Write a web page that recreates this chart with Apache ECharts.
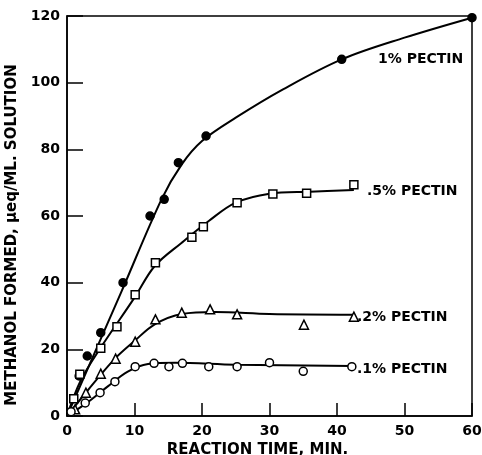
<!DOCTYPE html>
<html><head><meta charset="utf-8">
<script src="https://cdn.jsdelivr.net/npm/echarts@6/dist/echarts.min.js"></script>
<style>html,body{margin:0;padding:0;background:#fff}#c{width:482px;height:455px}</style>
</head><body><div id="c"></div>
<script>
// Observed points [time (min), methanol formed]
const pts1 = [[1.8,12],[3,18],[5,25],[8.3,40],[12.3,60],[14.4,65],[16.5,76],[20.6,84],[40.7,107],[60,119.5]];
const pts05 = [[1.0,5.2],[1.9,12.5],[5.0,20.3],[7.4,26.8],[10.1,36.4],[13.1,46],[18.5,53.6],[20.2,56.8],[25.2,64],[30.5,66.6],[35.5,66.8],[42.5,69.4]];
const pts02 = [[1.2,2],[2.8,7],[5,12.7],[7.2,17.2],[10.1,22.3],[13.1,29],[17,31],[21.2,32],[25.2,30.5],[35.1,27.4],[42.5,29.8]];
const pts01 = [[0.6,1.3],[2.7,3.9],[4.9,7],[7.1,10.3],[10.1,14.8],[12.9,15.8],[15.1,14.8],[17.1,15.8],[21,14.8],[25.2,14.8],[30,16],[35,13.4],[42.2,14.8]];
// Hand-drawn fitted curves
const curve1 = [[0,0],[8,37],[14,65],[17,75.5],[20,82.5],[25,89.5],[32,98],[40.7,107],[50,113.5],[60,119.5]];
const curve05 = [[0,0],[2,10.5],[5,20.5],[10,35.5],[13,45],[17,52],[21,58.5],[25,64],[30,66.7],[36,67.3],[42.5,67.8]];
const curve02 = [[0,0],[3,7.5],[7,17],[10,22.5],[13,27.5],[17,30.6],[22,31.2],[30,30.6],[42.5,30.4]];
const curve01 = [[0,0],[3,4],[6,8.8],[9,13.3],[12,15.6],[16,16],[25,15.4],[42.2,15]];
const xTicks = [0,10,20,30,40,50,60];
const yTicks = [0,20,40,60,80,100,120];
const seriesLabels = ['1% PECTIN','.5% PECTIN','.2% PECTIN','.1% PECTIN'];
const xName = 'REACTION TIME, MIN.';
const yName = 'METHANOL FORMED, \u03bceq/ML. SOLUTION';

const FONT = 'DejaVu Sans';
const txt = {color:'#000', fontFamily:FONT, fontWeight:'bold', fontSize:14};
const nameTxt = {color:'#000', fontFamily:FONT, fontWeight:'bold', fontSize:15};
const chart = echarts.init(document.getElementById('c'));
function curve(d){return {type:'line', data:d, smooth:0.35, showSymbol:false, symbol:'none', lineStyle:{color:'#000', width:2}, z:2, silent:true};}
function pts(d, sym, fill){return {type:'scatter', data:d, symbol:sym, symbolSize:sym==='rect'?8:(sym==='triangle'?9:8), itemStyle:{color:fill, borderColor:'#000', borderWidth:1.5, opacity:1}, z:5, silent:true};}
chart.setOption({
  animation:false,
  backgroundColor:'#fff',
  grid:{left:67, top:16, width:405, height:400, show:true, borderColor:'#000', borderWidth:1.5, backgroundColor:'transparent', containLabel:false, outerBoundsMode:'none'},
  xAxis:{type:'value', min:xTicks[0], max:xTicks[xTicks.length-1], interval:10,
    axisLine:{show:true, lineStyle:{color:'#000', width:1.5}},
    axisTick:{show:true, inside:true, length:13, lineStyle:{color:'#000', width:1.5}},
    axisLabel:Object.assign({margin:8}, txt),
    splitLine:{show:false},
    name:xName, nameLocation:'middle', nameGap:26,
    nameTextStyle:Object.assign({padding:[0,24,0,0]}, nameTxt)},
  yAxis:{type:'value', min:yTicks[0], max:yTicks[yTicks.length-1], interval:20,
    axisLine:{show:true, lineStyle:{color:'#000', width:1.5}},
    axisTick:{show:true, inside:true, length:16, lineStyle:{color:'#000', width:1.5}},
    axisLabel:Object.assign({margin:7}, txt),
    splitLine:{show:false},
    name:yName, nameLocation:'middle', nameGap:35,
    nameTextStyle:Object.assign({padding:[0,38,0,0]}, nameTxt)},
  graphic:[
    {type:'text', left:378, top:52, style:{text:seriesLabels[0], fill:'#000', font:'bold 14px "DejaVu Sans"'}},
    {type:'text', left:367, top:184, style:{text:seriesLabels[1], fill:'#000', font:'bold 14px "DejaVu Sans"'}},
    {type:'text', left:357, top:310, style:{text:seriesLabels[2], fill:'#000', font:'bold 14px "DejaVu Sans"'}},
    {type:'text', left:357, top:362, style:{text:seriesLabels[3], fill:'#000', font:'bold 14px "DejaVu Sans"'}}
  ],
  series:[
    curve(curve1), curve(curve05), curve(curve02), curve(curve01),
    pts(pts1,'circle','#000'),
    pts(pts05,'rect','#fff'),
    pts(pts02,'triangle','#fff'),
    pts(pts01,'circle','#fff')
  ]
});
</script></body></html>
